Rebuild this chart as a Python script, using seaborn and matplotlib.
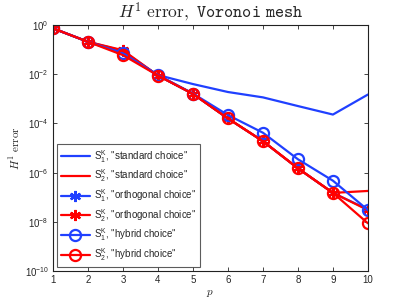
import matplotlib
matplotlib.use("Agg")
import matplotlib.pyplot as plt
import seaborn as sns
import pandas as pd

# polynomial degree
p = [1, 2, 3, 4, 5, 6, 7, 8, 9, 10]

# H1 errors
s1_standard = [0.74, 0.21, 0.076, 9.3e-3, 4.0e-3, 1.9e-3, 1.15e-3, 5.1e-4, 2.3e-4, 1.5e-3]
s2_standard = [0.74, 0.21, 0.076, 8.9e-3, 1.6e-3, 1.6e-4, 1.9e-5, 1.5e-6, 1.5e-7, 1.8e-7]
s1_orthogonal = [0.74, 0.21, 0.089, 8.9e-3, 1.6e-3, 1.6e-4, 1.9e-5, 1.5e-6, 1.5e-7, 3.2e-8]
s2_orthogonal = [0.74, 0.21, 0.095, 8.9e-3, 1.6e-3, 1.6e-4, 1.9e-5, 1.5e-6, 1.5e-7, 3.0e-8]
s1_hybrid = [0.74, 0.21, 0.071, 9.3e-3, 1.65e-3, 2.2e-4, 4.2e-5, 3.5e-6, 4.7e-7, 3.0e-8]
s2_hybrid = [0.74, 0.21, 0.060, 8.9e-3, 1.6e-3, 1.6e-4, 1.9e-5, 1.5e-6, 1.5e-7, 8.7e-9]

labels = [r'$\mathregular{S_1^K}$, "standard choice"',
          r'$\mathregular{S_2^K}$, "standard choice"',
          r'$\mathregular{S_1^K}$, "orthogonal choice"',
          r'$\mathregular{S_2^K}$, "orthogonal choice"',
          r'$\mathregular{S_1^K}$, "hybrid choice"',
          r'$\mathregular{S_2^K}$, "hybrid choice"']

blue = '#2040ff'
red = '#ff0000'

sns.set_style("ticks")
plt.rcParams['font.family'] = ['Liberation Sans', 'DejaVu Sans']
plt.rcParams['mathtext.fontset'] = 'cm'
plt.rcParams['xtick.direction'] = 'in'
plt.rcParams['ytick.direction'] = 'in'

fig = plt.figure(figsize=(4.07, 3.06), dpi=100)
ax = fig.add_axes([0.130, 0.1144, 0.774, 0.8036])

series = [
    (s1_standard, blue, None, 'full'),
    (s2_standard, red, None, 'full'),
    (s1_orthogonal, blue, (6, 2, 0), 'full'),
    (s2_orthogonal, red, (6, 2, 0), 'full'),
    (s1_hybrid, blue, 'o', 'none'),
    (s2_hybrid, red, 'o', 'none'),
]

for (vals, col, mk, fill), lab in zip(series, labels):
    df = pd.DataFrame({"p": p, "err": vals})
    kw = dict(color=col, linewidth=1.6, label=lab)
    if mk is not None:
        kw.update(marker=mk, markersize=8, markeredgewidth=1.6,
                  markeredgecolor=col, markerfacecolor=('none' if fill == 'none' else col))
    sns.lineplot(data=df, x="p", y="err", ax=ax, **kw)

ax.set_yscale('log')
ax.set_xlim(1, 10)
ax.set_ylim(1e-10, 1e0)
ax.set_xticks(p)
ax.set_yticks([1e0, 1e-2, 1e-4, 1e-6, 1e-8, 1e-10])
ax.minorticks_off()
ax.tick_params(labelsize=7, length=3, width=0.6, top=True, right=True, pad=3)
for s in ax.spines.values():
    s.set_visible(True)
    s.set_linewidth(0.8)
    s.set_color('#222222')

ax.set_xlabel('$p$', fontsize=8, labelpad=2)
ax.set_ylabel(r'$H^1\ \mathrm{error}$', fontsize=8, labelpad=2)
ax.set_title(r'$H^1\ \mathrm{error,}\ \mathtt{Voronoi\ mesh}$', fontsize=12.5, pad=5)

leg = ax.legend(loc='lower left', fontsize=7, frameon=True, fancybox=False,
                handlelength=3.0, borderaxespad=0.4, labelspacing=0.3,
                handletextpad=0.4, borderpad=0.4)
leg.get_frame().set_edgecolor('#333333')
leg.get_frame().set_linewidth(0.8)

fig.savefig('out.png', dpi=100)
